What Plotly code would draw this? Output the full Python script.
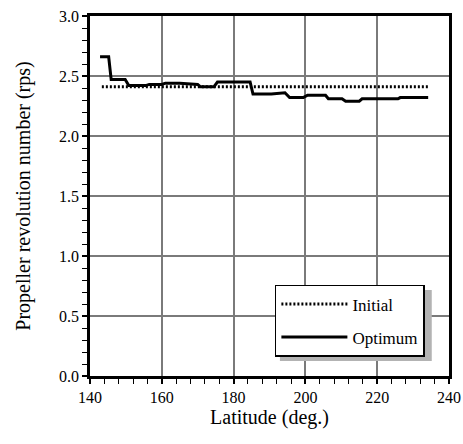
import plotly.graph_objects as go

# Data
initial_lat = [143.3, 234.2]
initial_rps = [2.41, 2.41]

optimum_lat = [142.8, 145.2, 145.9, 149.8, 150.8, 155.5, 156.5, 160.0, 161.0, 165.0,
               170.0, 170.8, 174.5, 175.5, 184.6, 185.4, 190.5, 194.3, 195.6, 199.4,
               200.6, 205.6, 206.4, 210.2, 211.2, 215.0, 215.8, 225.8, 226.4, 234.2]
optimum_rps = [2.66, 2.66, 2.47, 2.47, 2.42, 2.42, 2.43, 2.43, 2.44, 2.44,
               2.43, 2.41, 2.41, 2.45, 2.45, 2.35, 2.35, 2.36, 2.32, 2.32,
               2.34, 2.34, 2.31, 2.31, 2.29, 2.29, 2.31, 2.31, 2.32, 2.32]

x_ticks = [140, 160, 180, 200, 220, 240]
y_ticks = [0.0, 0.5, 1.0, 1.5, 2.0, 2.5, 3.0]
y_tick_labels = ["0.0", "0.5", "1.0", "1.5", "2.0", "2.5", "3.0"]

FONT = "Liberation Serif"

fig = go.Figure()
fig.add_trace(go.Scatter(
    x=initial_lat, y=initial_rps, mode="lines", name="Initial",
    legendgroup="a",
    line=dict(color="black", width=3, dash="2px,2px"),
))
fig.add_trace(go.Scatter(
    x=optimum_lat, y=optimum_rps, mode="lines", name="Optimum",
    legendgroup="b",
    line=dict(color="black", width=3),
))

axis_common = dict(
    showline=True, linecolor="black", linewidth=2.5, mirror=True,
    showgrid=True, gridcolor="#7a7a7a", gridwidth=2,
    zeroline=False, automargin=False,
    ticks="outside", ticklen=5, tickwidth=1.5, tickcolor="black",
    tickfont=dict(family=FONT, size=16, color="black"),
)

fig.update_xaxes(
    range=[140, 240], tickvals=x_ticks,
    minor=dict(dtick=4, ticks="outside", ticklen=5, tickwidth=1, tickcolor="black", showgrid=False),
    title=dict(text="Latitude (deg.)", font=dict(family=FONT, size=20, color="black"), standoff=6),
    **axis_common,
)
fig.update_yaxes(
    range=[0, 3.0], tickvals=y_ticks, ticktext=y_tick_labels,
    minor=dict(dtick=0.1, ticks="outside", ticklen=5, tickwidth=1, tickcolor="black", showgrid=False),
    title=dict(text="Propeller revolution number (rps)", font=dict(family=FONT, size=20, color="black"), standoff=24),
    **axis_common,
)

# legend shadow
fig.add_shape(type="rect", xref="paper", yref="paper",
              x0=0.529, x1=0.952, y0=0.042, y1=0.239,
              fillcolor="#b3b3b3", line=dict(width=0), layer="above")

fig.update_layout(
    width=463, height=444,
    margin=dict(l=90, r=14, t=16, b=68),
    paper_bgcolor="white", plot_bgcolor="white",
    font=dict(family=FONT, size=16, color="black"),
    showlegend=True,
    legend=dict(
        x=0.515, y=0.253, xanchor="left", yanchor="top",
        bgcolor="white", bordercolor="black", borderwidth=1.5,
        font=dict(family=FONT, size=17, color="black"),
        tracegroupgap=8, itemwidth=66,
    ),
)

fig.write_html("out.html")
